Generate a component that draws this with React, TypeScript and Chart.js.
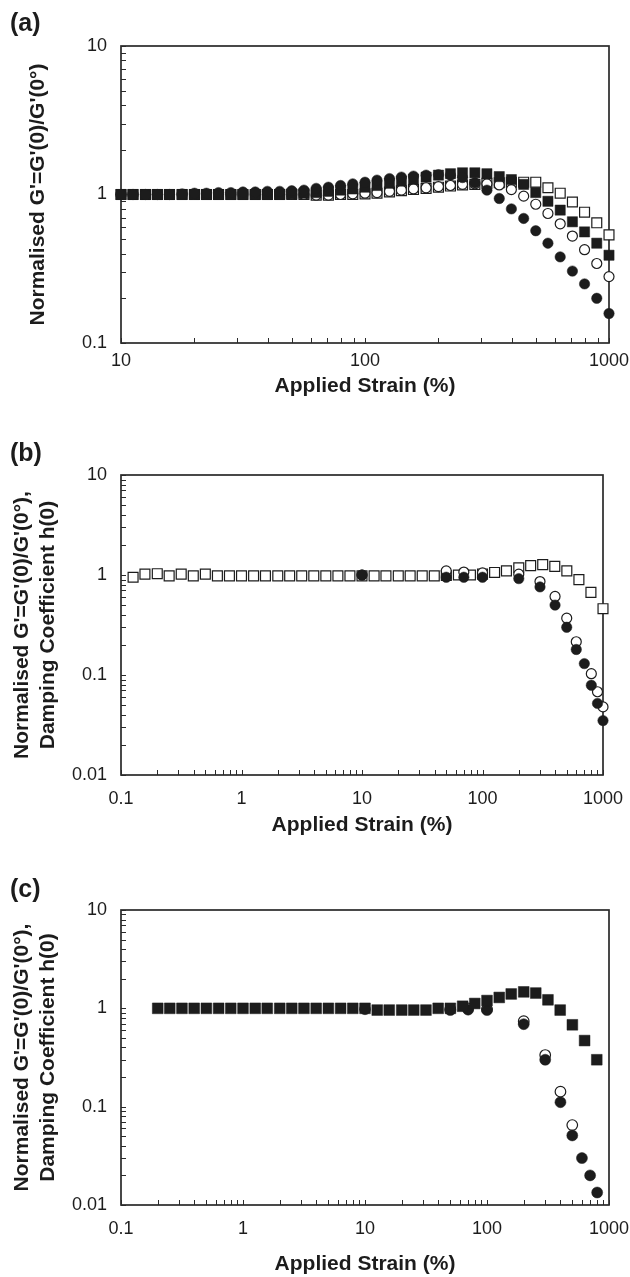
import React, { useEffect, useRef } from 'react';
import { Chart, registerables } from 'chart.js';

Chart.register(...registerables);

// ---------- Panel (a) ----------
const A_STRAIN = [10, 11.2, 12.6, 14.1, 15.8, 17.8, 20, 22.4, 25.1, 28.2, 31.6, 35.5, 39.8, 44.7, 50.1, 56.2, 63.1, 70.8, 79.4, 89.1, 100, 112, 126, 141, 158, 178, 200, 224, 251, 282, 316, 355, 398, 447, 501, 562, 631, 708, 794, 891, 1000];
const A_FILLED_CIRCLE = [1.0, 1.0, 1.0, 1.0, 1.0, 1.01, 1.02, 1.02, 1.03, 1.03, 1.04, 1.04, 1.05, 1.05, 1.06, 1.07, 1.1, 1.12, 1.15, 1.18, 1.21, 1.25, 1.28, 1.31, 1.33, 1.35, 1.36, 1.35, 1.3, 1.2, 1.07, 0.94, 0.8, 0.69, 0.57, 0.47, 0.38, 0.305, 0.25, 0.2, 0.158];
const A_OPEN_CIRCLE = [1.0, 1.0, 1.0, 1.0, 1.0, 1.0, 1.0, 1.0, 1.0, 1.0, 1.0, 1.0, 1.0, 1.0, 1.0, 1.0, 0.99, 0.99, 1.0, 1.01, 1.02, 1.03, 1.05, 1.07, 1.09, 1.11, 1.13, 1.15, 1.17, 1.18, 1.18, 1.16, 1.08, 0.975, 0.86, 0.745, 0.635, 0.525, 0.425, 0.343, 0.28];
const A_FILLED_SQUARE = [1.0, 1.0, 1.0, 1.0, 1.0, 1.0, 1.0, 1.0, 1.0, 1.0, 1.0, 1.0, 1.0, 1.0, 1.01, 1.02, 1.03, 1.05, 1.07, 1.09, 1.12, 1.15, 1.19, 1.23, 1.27, 1.31, 1.35, 1.38, 1.4, 1.4, 1.38, 1.32, 1.26, 1.17, 1.03, 0.9, 0.785, 0.655, 0.56, 0.47, 0.39];
const A_OPEN_SQUARE = [1.0, 1.0, 1.0, 1.0, 1.0, 1.0, 1.0, 1.0, 1.0, 1.0, 1.0, 1.0, 1.0, 1.0, 1.0, 1.0, 0.99, 0.99, 1.0, 1.0, 1.01, 1.02, 1.04, 1.06, 1.08, 1.1, 1.12, 1.14, 1.16, 1.17, 1.19, 1.2, 1.21, 1.21, 1.21, 1.11, 1.02, 0.89, 0.76, 0.645, 0.535];
const A_X_LABELS = [10, 100, 1000];
const A_Y_LABELS = [0.1, 1, 10];

// ---------- Panel (b) ----------
const B_SQ_STRAIN = [0.126, 0.158, 0.2, 0.251, 0.316, 0.398, 0.501, 0.631, 0.794, 1, 1.26, 1.58, 2, 2.51, 3.16, 3.98, 5.01, 6.31, 7.94, 10, 12.6, 15.8, 20, 25.1, 31.6, 39.8, 50.1, 63.1, 79.4, 100, 126, 158, 200, 251, 316, 398, 501, 631, 794, 1000];
const B_OPEN_SQUARE = [0.95, 1.02, 1.03, 0.98, 1.02, 0.98, 1.02, 0.98, 0.98, 0.98, 0.98, 0.98, 0.98, 0.98, 0.98, 0.98, 0.98, 0.98, 0.98, 0.98, 0.98, 0.98, 0.98, 0.98, 0.98, 0.98, 0.99, 1.0, 1.0, 1.02, 1.06, 1.1, 1.18, 1.24, 1.27, 1.22, 1.1, 0.9, 0.67, 0.46];
const B_FC_STRAIN = [10, 50, 70, 100, 200, 300, 400, 500, 600, 700, 800, 900, 1000];
const B_FILLED_CIRCLE = [1.0, 0.95, 0.95, 0.95, 0.92, 0.76, 0.5, 0.3, 0.18, 0.13, 0.079, 0.052, 0.035];
const B_OC_STRAIN = [10, 50, 70, 100, 200, 300, 400, 500, 600, 800, 900, 1000];
const B_OPEN_CIRCLE = [1.0, 1.1, 1.07, 1.05, 1.02, 0.86, 0.61, 0.37, 0.215, 0.103, 0.068, 0.048];
const B_X_LABELS = [0.1, 1, 10, 100, 1000];
const B_Y_LABELS = [0.01, 0.1, 1, 10];

// ---------- Panel (c) ----------
const C_SQ_STRAIN = [0.2, 0.251, 0.316, 0.398, 0.501, 0.631, 0.794, 1, 1.26, 1.58, 2, 2.51, 3.16, 3.98, 5.01, 6.31, 7.94, 10, 12.6, 15.8, 20, 25.1, 31.6, 39.8, 50.1, 63.1, 79.4, 100, 126, 158, 200, 251, 316, 398, 501, 631, 794];
const C_FILLED_SQUARE = [1.0, 1.0, 1.0, 1.0, 1.0, 1.0, 1.0, 1.0, 1.0, 1.0, 1.0, 1.0, 1.0, 1.0, 1.0, 1.0, 1.0, 1.0, 0.96, 0.96, 0.96, 0.96, 0.96, 1.0, 1.0, 1.05, 1.12, 1.2, 1.29, 1.4, 1.47, 1.43, 1.22, 0.96, 0.68, 0.47, 0.3];
const C_FC_STRAIN = [10, 50, 70, 100, 200, 300, 400, 500, 600, 700, 800];
const C_FILLED_CIRCLE = [0.98, 0.96, 0.97, 0.96, 0.69, 0.3, 0.111, 0.051, 0.03, 0.02, 0.0134];
const C_OC_STRAIN = [50, 70, 100, 200, 300, 400, 500];
const C_OPEN_CIRCLE = [0.98, 1.0, 0.98, 0.74, 0.335, 0.142, 0.065];
const C_X_LABELS = [0.1, 1, 10, 100, 1000];
const C_Y_LABELS = [0.01, 0.1, 1, 10];

const X_TITLE = 'Applied Strain (%)';
const Y_TITLE_A = "Normalised G'=G'(0)/G'(0°)";
const Y_TITLE_BC = ["Normalised G'=G'(0)/G'(0°),", 'Damping Coefficient h(0)'];

const FONT = '"Liberation Sans", Arial, Helvetica, sans-serif';
const INK = '#1c1c1c';

function logTicks(labels: number[]): number[] {
  const out: number[] = [];
  for (let i = 0; i < labels.length - 1; i++) {
    for (let k = 1; k <= 9; k++) out.push(labels[i] * k);
  }
  out.push(labels[labels.length - 1]);
  return out;
}

const framePlugin = {
  id: 'frameTicks',
  beforeDatasetsDraw(chart: any) {
    const { ctx, chartArea } = chart;
    const { left, right, top, bottom } = chartArea;
    const xs = chart.scales.x;
    const ys = chart.scales.y;
    ctx.save();
    ctx.strokeStyle = '#2a2a2a';
    ctx.lineWidth = 1;
    const T = 5;
    xs.ticks.forEach((t: any) => {
      const px = Math.round(xs.getPixelForValue(t.value)) + 0.5;
      ctx.beginPath();
      ctx.moveTo(px, bottom);
      ctx.lineTo(px, bottom - T);
      ctx.stroke();
    });
    ys.ticks.forEach((t: any) => {
      const py = Math.round(ys.getPixelForValue(t.value)) + 0.5;
      ctx.beginPath();
      ctx.moveTo(left, py);
      ctx.lineTo(left + T, py);
      ctx.stroke();
    });
    ctx.lineWidth = 1.7;
    ctx.strokeRect(left, top, right - left, bottom - top);
    ctx.restore();
  },
};

type Series = { xs: number[]; ys: number[]; style: 'circle' | 'rect'; filled: boolean; r: number };

type PanelSpec = {
  top: number;
  height: number;
  plotTop: number;
  plotBottom: number;
  plotRight: number;
  xLabels: number[];
  yLabels: number[];
  yTitle: string | string[];
  yTitlePad: number;
  xTitlePad: number;
  xTickPad: number;
  series: Series[];
};

function Panel({ spec }: { spec: PanelSpec }) {
  const ref = useRef<HTMLCanvasElement>(null);
  useEffect(() => {
    const tickFont = { family: FONT, size: 18 };
    const titleFont = { family: FONT, size: 21, weight: 'bold' as const, lineHeight: 1.25 };
    const mkAxis = (labels: number[], isX: boolean) => ({
      type: 'logarithmic' as const,
      min: labels[0],
      max: labels[labels.length - 1],
      afterBuildTicks: (scale: any) => {
        scale.ticks = logTicks(labels).map((v) => ({ value: v }));
      },
      afterFit: (scale: any) => {
        if (isX) {
          scale.height = spec.height - spec.plotBottom;
          scale.paddingLeft = 0;
          scale.paddingRight = 0;
        } else {
          scale.width = 121;
          scale.paddingTop = 0;
          scale.paddingBottom = 0;
        }
      },
      grid: { display: false, drawTicks: false },
      border: { display: false },
      ticks: {
        autoSkip: false,
        maxRotation: 0,
        minRotation: 0,
        padding: isX ? spec.xTickPad : 14,
        color: INK,
        font: tickFont,
        callback: (value: any) => {
          const hit = labels.find((l) => Math.abs(l - Number(value)) < l * 1e-6);
          return hit !== undefined ? String(hit) : '';
        },
      },
      title: {
        display: true,
        text: isX ? X_TITLE : spec.yTitle,
        color: INK,
        font: titleFont,
        padding: isX ? { top: 0, bottom: spec.xTitlePad } : { top: spec.yTitlePad, bottom: 0 },
      },
    });
    const chart = new Chart(ref.current as HTMLCanvasElement, {
      type: 'scatter',
      data: {
        datasets: spec.series.map((s) => ({
          data: s.xs.map((x, i) => ({ x, y: s.ys[i] })),
          pointStyle: s.style,
          pointRadius: s.r,
          pointHoverRadius: s.r,
          backgroundColor: s.filled ? INK : '#ffffff',
          borderColor: INK,
          borderWidth: s.filled ? 0.5 : 1.2,
          showLine: false,
          clip: false as any,
        })),
      },
      options: {
        responsive: false,
        animation: false,
        events: [],
        layout: { padding: { top: spec.plotTop, right: 630 - spec.plotRight, bottom: 0, left: 0 } },
        plugins: { legend: { display: false }, tooltip: { enabled: false }, title: { display: false } },
        scales: { x: mkAxis(spec.xLabels, true) as any, y: mkAxis(spec.yLabels, false) as any },
      },
      plugins: [framePlugin],
    });
    return () => chart.destroy();
  }, []);
  return (
    <canvas
      ref={ref}
      width={630}
      height={spec.height}
      style={{ position: 'absolute', left: 0, top: spec.top, width: 630, height: spec.height }}
    />
  );
}

const PANELS: PanelSpec[] = [
  {
    top: 0,
    height: 420,
    plotTop: 46,
    plotBottom: 343,
    plotRight: 609,
    xLabels: A_X_LABELS,
    yLabels: A_Y_LABELS,
    yTitle: Y_TITLE_A,
    yTitlePad: 25,
    xTitlePad: 21,
    xTickPad: 7,
    series: [
      { xs: A_STRAIN, ys: A_FILLED_CIRCLE, style: 'circle', filled: true, r: 5.2 },
      { xs: A_STRAIN, ys: A_FILLED_SQUARE, style: 'rect', filled: true, r: 7.2 },
      { xs: A_STRAIN, ys: A_OPEN_CIRCLE, style: 'circle', filled: false, r: 5 },
      { xs: A_STRAIN, ys: A_OPEN_SQUARE, style: 'rect', filled: false, r: 7 },
    ],
  },
  {
    top: 420,
    height: 420,
    plotTop: 55,
    plotBottom: 355,
    plotRight: 603,
    xLabels: B_X_LABELS,
    yLabels: B_Y_LABELS,
    yTitle: Y_TITLE_BC,
    yTitlePad: 9,
    xTitlePad: 2,
    xTickPad: 13,
    series: [
      { xs: B_FC_STRAIN, ys: B_FILLED_CIRCLE, style: 'circle', filled: true, r: 5.2 },
      { xs: B_OC_STRAIN, ys: B_OPEN_CIRCLE, style: 'circle', filled: false, r: 5 },
      { xs: B_SQ_STRAIN, ys: B_OPEN_SQUARE, style: 'rect', filled: false, r: 7 },
    ],
  },
  {
    top: 840,
    height: 437,
    plotTop: 70,
    plotBottom: 365,
    plotRight: 609,
    xLabels: C_X_LABELS,
    yLabels: C_Y_LABELS,
    yTitle: Y_TITLE_BC,
    yTitlePad: 9,
    xTitlePad: 0,
    xTickPad: 13,
    series: [
      { xs: C_SQ_STRAIN, ys: C_FILLED_SQUARE, style: 'rect', filled: true, r: 7.6 },
      { xs: C_FC_STRAIN, ys: C_FILLED_CIRCLE, style: 'circle', filled: true, r: 5.5 },
      { xs: C_OC_STRAIN, ys: C_OPEN_CIRCLE, style: 'circle', filled: false, r: 5.3 },
    ],
  },
];

const PANEL_TAGS = ['(a)', '(b)', '(c)'];
const TAG_TOPS = [10, 440, 876];

export default function App() {
  return (
    <div style={{ position: 'absolute', left: 0, top: 0, width: 630, height: 1277, background: '#ffffff' }}>
      {PANELS.map((p, i) => (
        <Panel key={i} spec={p} />
      ))}
      {PANEL_TAGS.map((t, i) => (
        <div
          key={t}
          style={{
            position: 'absolute',
            left: 10,
            top: TAG_TOPS[i],
            font: `bold 25px ${FONT}`,
            lineHeight: '1',
            color: INK,
          }}
        >
          {t}
        </div>
      ))}
    </div>
  );
}
